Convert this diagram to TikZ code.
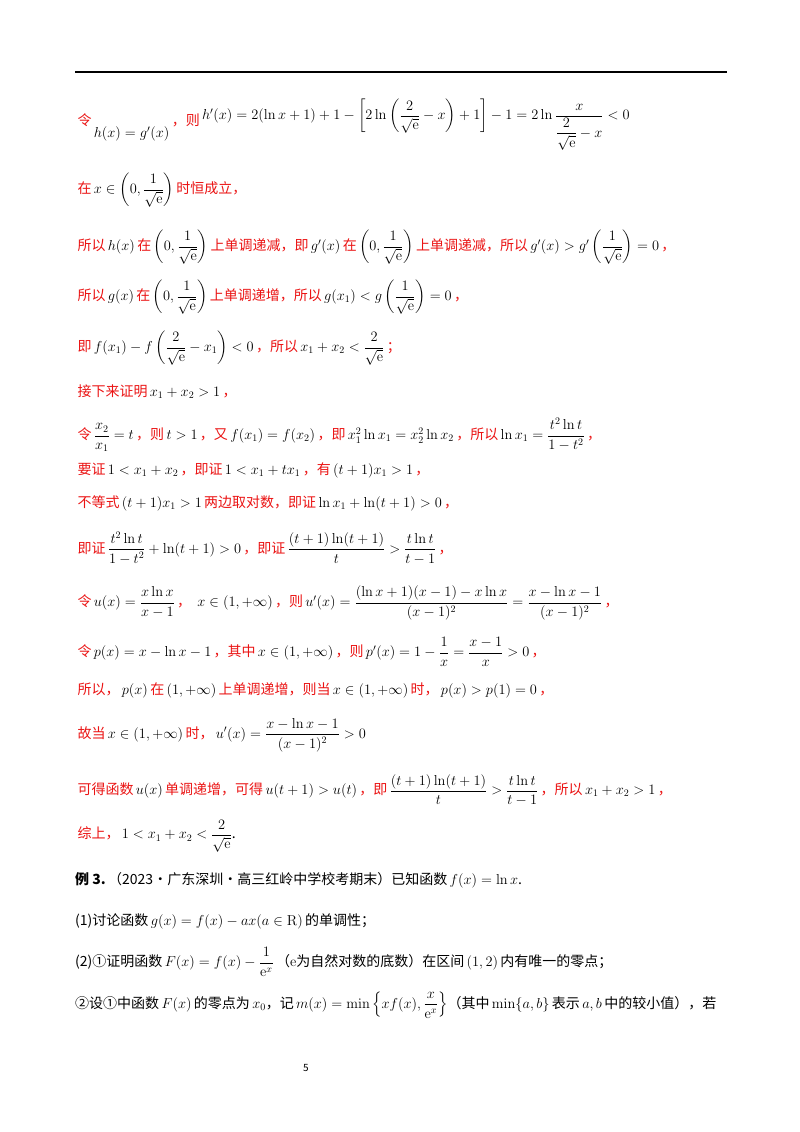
\documentclass[tikz,border=0pt]{standalone}
\usepackage[no-math]{fontspec}
\usepackage{amsmath,amssymb}
\setmainfont{Noto Sans CJK SC}
\definecolor{rd}{RGB}{235,20,20}
\newcommand{\rt}[1]{\,\textcolor{rd}{#1}\,}
\newcommand{\se}{\sqrt{\mathrm{e}}}
\begin{document}
\begin{tikzpicture}[x=1pt,y=-1pt,line/.style={anchor=west,inner sep=0pt,font=\fontsize{14}{16}\selectfont}]
\useasboundingbox[fill=white] (0,0) rectangle (800,1132);
\draw[line width=1.6pt] (75,72) -- (727,72);
\node[line] (l1) at (75,125) {\rt{令}\raisebox{-12pt}{$h(x)=g'(x)$}\rt{，则}\raisebox{6pt}{$h'(x)=2(\ln x+1)+1-\left[2\ln\left(\dfrac{2}{\se}-x\right)+1\right]-1=2\ln\dfrac{x}{\dfrac{2}{\se}-x}<0$}};
\node[line] (l2) at (75,190) {\rt{在}$x\in\left(0,\dfrac{1}{\se}\right)$\rt{时恒成立，}};
\node[line] (l3) at (75,247) {\rt{所以}$h(x)$\rt{在}$\left(0,\dfrac{1}{\se}\right)$\rt{上单调递减，即}$g'(x)$\rt{在}$\left(0,\dfrac{1}{\se}\right)$\rt{上单调递减，所以}$g'(x)>g'\left(\dfrac{1}{\se}\right)=0$\rt{，}};
\node[line] (l4) at (75,297) {\rt{所以}$g(x)$\rt{在}$\left(0,\dfrac{1}{\se}\right)$\rt{上单调递增，所以}$g(x_1)<g\left(\dfrac{1}{\se}\right)=0$\rt{，}};
\node[line] (l5) at (75,348) {\rt{即}$f(x_1)-f\left(\dfrac{2}{\se}-x_1\right)<0$\rt{，所以}$x_1+x_2<\dfrac{2}{\se}$\rt{；}};
\node[line] (l6) at (75,392) {\rt{接下来证明}$x_1+x_2>1$\rt{，}};
\node[line] (l7) at (75,435) {\rt{令}$\dfrac{x_2}{x_1}=t$\rt{，则}$t>1$\rt{，又}$f(x_1)=f(x_2)$\rt{，即}$x_1^2\ln x_1=x_2^2\ln x_2$\rt{，所以}$\ln x_1=\dfrac{t^2\ln t}{1-t^2}$\rt{，}};
\node[line] (l8) at (75,470) {\rt{要证}$1<x_1+x_2$\rt{，即证}$1<x_1+tx_1$\rt{，有}$(t+1)x_1>1$\rt{，}};
\node[line] (l9) at (75,503) {\rt{不等式}$(t+1)x_1>1$\rt{两边取对数，即证}$\ln x_1+\ln(t+1)>0$\rt{，}};
\node[line] (l10) at (75,548) {\rt{即证}$\dfrac{t^2\ln t}{1-t^2}+\ln(t+1)>0$\rt{，即证}$\dfrac{(t+1)\ln(t+1)}{t}>\dfrac{t\ln t}{t-1}$\rt{，}};
\node[line] (l11) at (75,603) {\rt{令}$u(x)=\dfrac{x\ln x}{x-1}$\rt{，}\;$x\in(1,+\infty)$\rt{，则}$u'(x)=\dfrac{(\ln x+1)(x-1)-x\ln x}{(x-1)^2}=\dfrac{x-\ln x-1}{(x-1)^2}$\rt{，}};
\node[line] (l12) at (75,652) {\rt{令}$p(x)=x-\ln x-1$\rt{，其中}$x\in(1,+\infty)$\rt{，则}$p'(x)=1-\dfrac{1}{x}=\dfrac{x-1}{x}>0$\rt{，}};
\node[line] (l13) at (75,690) {\rt{所以，}$p(x)$\rt{在}$(1,+\infty)$\rt{上单调递增，则当}$x\in(1,+\infty)$\rt{时，}$p(x)>p(1)=0$\rt{，}};
\node[line] (l14) at (75,735) {\rt{故当}$x\in(1,+\infty)$\rt{时，}$u'(x)=\dfrac{x-\ln x-1}{(x-1)^2}>0$};
\node[line] (l15) at (75,790) {\rt{可得函数}$u(x)$\rt{单调递增，可得}$u(t+1)>u(t)$\rt{，即}$\dfrac{(t+1)\ln(t+1)}{t}>\dfrac{t\ln t}{t-1}$\rt{，所以}$x_1+x_2>1$\rt{，}};
\node[line] (l16) at (75,836) {\rt{综上，}$1<x_1+x_2<\dfrac{2}{\se}$.};
\node[line] (l17) at (75,880) {\textbf{例 3.}\,（2023·广东深圳·高三红岭中学校考期末）已知函数\,$f(x)=\ln x$.};
\node[line] (l18) at (75,921) {(1)讨论函数\,$g(x)=f(x)-ax(a\in\mathrm{R})$\,的单调性；};
\node[line] (l19) at (75,962) {(2)①证明函数\,$F(x)=f(x)-\dfrac{1}{\mathrm{e}^x}$\,（$\mathrm{e}$为自然对数的底数）在区间\,$(1,2)$\,内有唯一的零点；};
\node[line] (l20) at (75,1005) {②设①中函数\,$F(x)$\,的零点为\,$x_0$，记\,$m(x)=\min\left\{xf(x),\dfrac{x}{\mathrm{e}^x}\right\}$（其中\,$\min\{a,b\}$\,表示\,$a,b$\,中的较小值），若};
\node[line,font=\fontsize{10}{12}\selectfont] (pg) at (303,1068) {5};
\end{tikzpicture}
\end{document}
